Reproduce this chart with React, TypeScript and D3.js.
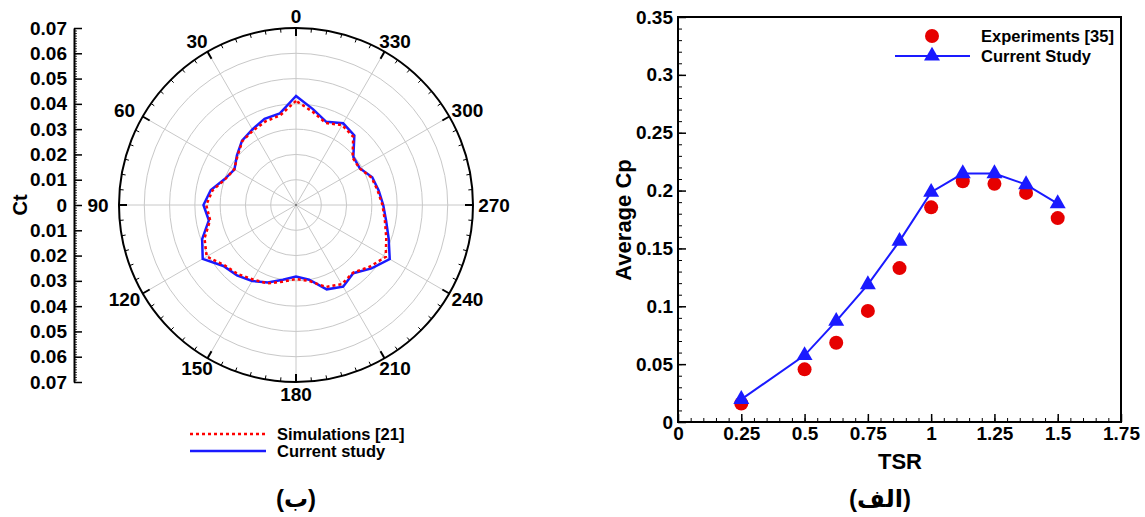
import React, { useEffect, useRef } from 'react';
import * as d3 from 'd3';

// polar chart (Ct vs azimuth), values every 10 degrees
const angles = d3.range(0, 360, 10);
const simulations = [
  0.0412, 0.036, 0.0352, 0.034, 0.033, 0.0302, 0.0282, 0.0298, 0.0335, 0.0355,
  0.0345, 0.0385, 0.0408, 0.037, 0.0357, 0.034, 0.033, 0.0308, 0.0293, 0.0305,
  0.0345, 0.0362, 0.035, 0.038, 0.041, 0.038, 0.0357, 0.0342, 0.0328, 0.0318,
  0.029, 0.0292, 0.0352, 0.0365, 0.0345, 0.0375,
];
const currentCt = [
  0.0431, 0.0368, 0.0363, 0.0345, 0.0332, 0.0305, 0.0281, 0.03, 0.0342, 0.0366,
  0.035, 0.0395, 0.0426, 0.0375, 0.0363, 0.0347, 0.0326, 0.03, 0.0283, 0.03,
  0.0355, 0.0373, 0.0352, 0.039, 0.0428, 0.039, 0.0362, 0.0345, 0.0332, 0.0321,
  0.0291, 0.0296, 0.0359, 0.0373, 0.035, 0.0385,
];
const angleLabels = [0, 30, 60, 90, 120, 150, 180, 210, 240, 270, 300, 330];
const ctTicks = [-0.07, -0.06, -0.05, -0.04, -0.03, -0.02, -0.01, 0, 0.01, 0.02, 0.03, 0.04, 0.05, 0.06, 0.07];

// Cp vs TSR
const tsr = [0.25, 0.5, 0.625, 0.75, 0.875, 1, 1.125, 1.25, 1.375, 1.5];
const experiments = [0.016, 0.0455, 0.0685, 0.096, 0.133, 0.1855, 0.208, 0.2058, 0.198, 0.1762];
const currentCp = [0.0196, 0.0576, 0.0872, 0.1188, 0.1563, 0.1986, 0.2147, 0.2147, 0.2052, 0.1888];
const tsrTicks = [0, 0.25, 0.5, 0.75, 1, 1.25, 1.5, 1.75];
const cpTicks = [0, 0.05, 0.1, 0.15, 0.2, 0.25, 0.3, 0.35];

const FONT = 'Liberation Sans, Arial, DejaVu Sans, sans-serif';
const TICK_FS = 19;
const LEGEND_FS = 16.5;
const TITLE_FS = 22;

const App = () => {
  const svgRef = useRef<SVGSVGElement>(null);

  useEffect(() => {
    const svg = d3.select(svgRef.current);
    svg.selectAll('*').remove();
    svg.style('font-family', FONT).style('font-weight', 'bold');

    // ---------- polar chart ----------
    const cx = 296, cy = 205, R = 177;
    const r = d3.scaleLinear().domain([0, 0.07]).range([0, R]);
    const pol = svg.append('g').attr('transform', `translate(${cx},${cy})`);
    const toXY = (deg: number, rad: number) => {
      const a = (deg * Math.PI) / 180;
      return [-rad * Math.sin(a), -rad * Math.cos(a)];
    };

    // grid circles
    pol.selectAll('circle.grid')
      .data(d3.range(0.01, 0.07, 0.01))
      .join('circle')
      .attr('r', d => r(d))
      .attr('fill', 'none')
      .attr('stroke', '#c8c8c8')
      .attr('stroke-width', 1);

    // spokes
    pol.selectAll('line.spoke')
      .data(angleLabels)
      .join('line')
      .attr('x1', 0).attr('y1', 0)
      .attr('x2', d => toXY(d, R)[0])
      .attr('y2', d => toXY(d, R)[1])
      .attr('stroke', '#c8c8c8')
      .attr('stroke-width', 1);

    // outer ring + ticks
    pol.append('circle').attr('r', R).attr('fill', 'none').attr('stroke', '#000').attr('stroke-width', 2);
    pol.selectAll('line.rt')
      .data(d3.range(0, 360, 5))
      .join('line')
      .attr('x1', d => toXY(d, R)[0])
      .attr('y1', d => toXY(d, R)[1])
      .attr('x2', d => toXY(d, R - (d % 30 === 0 ? 8 : 4))[0])
      .attr('y2', d => toXY(d, R - (d % 30 === 0 ? 8 : 4))[1])
      .attr('stroke', '#000')
      .attr('stroke-width', d => (d % 30 === 0 ? 2 : 1));

    pol.selectAll('text.al')
      .data(angleLabels)
      .join('text')
      .attr('x', d => -198 * Math.sin((d * Math.PI) / 180))
      .attr('y', d => -189 * Math.cos((d * Math.PI) / 180))
      .attr('text-anchor', 'middle')
      .attr('dominant-baseline', 'central')
      .attr('font-size', TICK_FS)
      .text(d => d);

    const radial = (vals: number[]) =>
      d3.lineRadial<number>()
        .angle((_, i) => (-angles[i] * Math.PI) / 180)
        .radius(d => r(d))
        .curve(d3.curveLinearClosed)(vals);

    pol.append('path')
      .attr('d', radial(currentCt))
      .attr('fill', 'none')
      .attr('stroke', '#1a1aff')
      .attr('stroke-width', 2.5);
    pol.append('path')
      .attr('d', radial(simulations))
      .attr('fill', 'none')
      .attr('stroke', '#ff0000')
      .attr('stroke-width', 2.5)
      .attr('stroke-dasharray', '3,3');
    pol.append('circle').attr('r', 1).attr('fill', '#666');

    // Ct axis
    const yCt = d3.scaleLinear().domain([-0.07, 0.07]).range([cy + R, cy - R]);
    svg.append('g')
      .attr('transform', 'translate(74,0)')
      .call(d3.axisLeft(yCt).tickValues(d3.range(-0.07, 0.0701, 0.001)).tickSize(-3).tickFormat(() => ''))
      .call(g => g.select('.domain').remove())
      .selectAll('line').attr('stroke-width', 0.8);
    const ctAxis = svg.append('g')
      .attr('transform', 'translate(74,0)')
      .call(d3.axisLeft(yCt).tickValues(ctTicks).tickSizeInner(-8).tickSizeOuter(0).tickPadding(7)
        .tickFormat(d => (Math.abs(+d) < 1e-9 ? '0' : Math.abs(+d).toFixed(2))));
    ctAxis.select('.domain').attr('stroke-width', 2);
    ctAxis.selectAll('line').attr('stroke-width', 1.5);
    ctAxis.selectAll('text').attr('font-size', TICK_FS).attr('font-family', FONT).attr('font-weight', 'bold').attr('fill', '#000');
    svg.append('text')
      .attr('transform', `translate(20,${cy}) rotate(-90)`)
      .attr('text-anchor', 'middle')
      .attr('dominant-baseline', 'central')
      .attr('font-size', 20)
      .text('Ct');

    // polar legend
    svg.append('line').attr('x1', 190).attr('x2', 266).attr('y1', 434).attr('y2', 434)
      .attr('stroke', '#ff0000').attr('stroke-width', 2.5).attr('stroke-dasharray', '3,3');
    svg.append('line').attr('x1', 190).attr('x2', 266).attr('y1', 451).attr('y2', 451)
      .attr('stroke', '#1a1aff').attr('stroke-width', 2.5);
    svg.append('text').attr('x', 277).attr('y', 434).attr('dominant-baseline', 'central').attr('font-size', LEGEND_FS).text('Simulations [21]');
    svg.append('text').attr('x', 277).attr('y', 451).attr('dominant-baseline', 'central').attr('font-size', LEGEND_FS).text('Current study');

    // ---------- Cp vs TSR ----------
    const x = d3.scaleLinear().domain([0, 1.75]).range([678, 1121]);
    const y = d3.scaleLinear().domain([0, 0.35]).range([422, 17]);

    const minorX = svg.append('g').attr('transform', 'translate(0,422)')
      .call(d3.axisBottom(x).tickValues(d3.range(0, 1.7501, 0.05)).tickSize(-4).tickFormat(() => ''));
    minorX.select('.domain').remove();
    const minorY = svg.append('g').attr('transform', 'translate(678,0)')
      .call(d3.axisLeft(y).tickValues(d3.range(0, 0.3501, 0.01)).tickSize(-4).tickFormat(() => ''));
    minorY.select('.domain').remove();

    const xAxis = svg.append('g').attr('transform', 'translate(0,422)')
      .call(d3.axisBottom(x).tickValues(tsrTicks).tickSizeInner(-8).tickSizeOuter(0).tickPadding(5).tickFormat(d => String(d)));
    const yAxis = svg.append('g').attr('transform', 'translate(678,0)')
      .call(d3.axisLeft(y).tickValues(cpTicks).tickSizeInner(-8).tickSizeOuter(0).tickPadding(5).tickFormat(d => String(d)));
    [xAxis, yAxis].forEach(a => {
      a.select('.domain').remove();
      a.selectAll('line').attr('stroke-width', 1.5);
      a.selectAll('text').attr('font-size', TICK_FS).attr('font-family', FONT).attr('font-weight', 'bold').attr('fill', '#000');
    });
    svg.append('rect')
      .attr('x', 678).attr('y', 17).attr('width', 1121 - 678).attr('height', 422 - 17)
      .attr('fill', 'none').attr('stroke', '#000').attr('stroke-width', 2);

    svg.append('text').attr('x', 900).attr('y', 461)
      .attr('text-anchor', 'middle').attr('dominant-baseline', 'central').attr('font-size', TITLE_FS).text('TSR');
    svg.append('text').attr('transform', 'translate(623,220) rotate(-90)')
      .attr('text-anchor', 'middle').attr('dominant-baseline', 'central').attr('font-size', TITLE_FS).text('Average Cp');

    svg.selectAll('circle.exp')
      .data(tsr)
      .join('circle')
      .attr('cx', d => x(d))
      .attr('cy', (_, i) => y(experiments[i]))
      .attr('r', 7)
      .attr('fill', '#e60000');

    svg.append('path')
      .datum(tsr)
      .attr('fill', 'none')
      .attr('stroke', '#1a1aff')
      .attr('stroke-width', 2)
      .attr('d', d3.line<number>().x(d => x(d)).y((_, i) => y(currentCp[i])));

    const tri = d3.symbol().type(d3.symbolTriangle).size(110);
    svg.selectAll('path.tri')
      .data(tsr)
      .join('path')
      .attr('transform', (d, i) => `translate(${x(d)},${y(currentCp[i])})`)
      .attr('d', tri)
      .attr('fill', '#1a1aff');

    // legend
    svg.append('circle').attr('cx', 932).attr('cy', 36).attr('r', 7).attr('fill', '#e60000');
    svg.append('line').attr('x1', 895).attr('x2', 970).attr('y1', 56).attr('y2', 56)
      .attr('stroke', '#1a1aff').attr('stroke-width', 2);
    svg.append('path').attr('transform', 'translate(932,56)').attr('d', tri).attr('fill', '#1a1aff');
    svg.append('text').attr('x', 981).attr('y', 36).attr('dominant-baseline', 'central').attr('font-size', LEGEND_FS).text('Experiments [35]');
    svg.append('text').attr('x', 981).attr('y', 56).attr('dominant-baseline', 'central').attr('font-size', LEGEND_FS).text('Current Study');

    // panel captions
    svg.append('text').attr('x', 296).attr('y', 498).attr('text-anchor', 'middle')
      .attr('dominant-baseline', 'central').attr('font-size', 24).text('(ب)');
    svg.append('text').attr('x', 880).attr('y', 498).attr('text-anchor', 'middle')
      .attr('dominant-baseline', 'central').attr('font-size', 24).text('(الف)');
  }, []);

  return (
    <svg
      ref={svgRef}
      width={1145}
      height={517}
      style={{ position: 'absolute', left: 0, top: 0, background: '#fff' }}
    />
  );
};

export default App;
